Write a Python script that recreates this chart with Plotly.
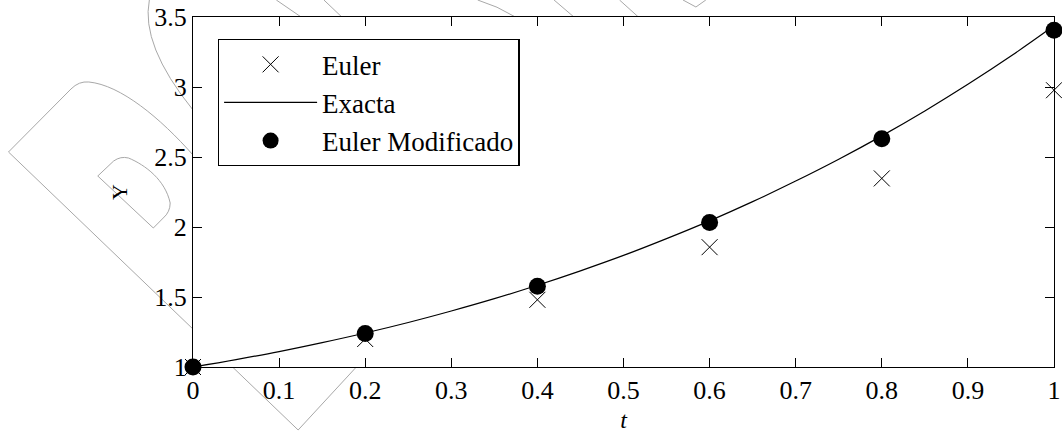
import plotly.graph_objects as go

# ---- data ----
t_steps = [0, 0.2, 0.4, 0.6, 0.8, 1.0]
euler = [1.0, 1.2, 1.48, 1.856, 2.347, 2.977]
euler_mod = [1.0, 1.24, 1.577, 2.032, 2.631, 3.405]

t_exact = [0, 0.05, 0.1, 0.15, 0.2, 0.25, 0.3, 0.35, 0.4, 0.45, 0.5,
           0.55, 0.6, 0.65, 0.7, 0.75, 0.8, 0.85, 0.9, 0.95, 1.0]
y_exact = [1.0, 1.053, 1.110, 1.174, 1.243, 1.318, 1.400, 1.488, 1.584, 1.687, 1.797,
           1.917, 2.044, 2.181, 2.328, 2.484, 2.651, 2.829, 3.019, 3.221, 3.437]

x_ticks = [0, 0.1, 0.2, 0.3, 0.4, 0.5, 0.6, 0.7, 0.8, 0.9, 1]
x_tick_labels = ["0", "0.1", "0.2", "0.3", "0.4", "0.5", "0.6", "0.7", "0.8", "0.9", "1"]
y_ticks = [1, 1.5, 2, 2.5, 3, 3.5]
y_tick_labels = ["1", "1.5", "2", "2.5", "3", "3.5"]

FONT = "Times New Roman, Liberation Serif, serif"
W, H = 1062, 433
ML, MR, MT, MB = 193, 1, 17, 66
PW, PH = W - ML - MR, H - MT - MB

fig = go.Figure()
fig.add_trace(go.Scatter(x=t_steps, y=euler, mode="markers", name="Euler",
                         marker=dict(symbol="x-thin-open", size=16, color="black",
                                     line=dict(width=1, color="black")),
                         cliponaxis=False))
fig.add_trace(go.Scatter(x=t_exact, y=y_exact, mode="lines", name="Exacta",
                         line=dict(color="black", width=1.2, shape="spline")))
fig.add_trace(go.Scatter(x=t_steps, y=euler_mod, mode="markers", name="Euler Modificado",
                         marker=dict(symbol="circle", size=17, color="black"),
                         cliponaxis=False))


# ---- watermark decoration (pixel paths converted to paper coords) ----
def P(x, y):
    return f"{(x - ML) / PW:.5f},{(H - MB - y) / PH:.5f}"


wm_paths = [
    f"M{P(193,155)} C{P(160,118)} {P(120,85)} {P(88,82)} Q{P(78,81)} {P(70,89)} L{P(7,152)} L{P(299,430)} L{P(380,343)}",
    f"M{P(97,176)} L{P(113,161)} Q{P(120,156)} {P(128,158)} C{P(145,165)} {P(165,180)} {P(170,203)} Q{P(170,212)} {P(163,218)} L{P(153,228)} Z",
    f"M{P(149,0)} Q{P(140,45)} {P(193,110)}",
    f"M{P(277,0)} L{P(302,17)}",
    f"M{P(325,0)} L{P(343,17)}",
    f"M{P(480,0)} Q{P(500,6)} {P(518,17)}",
    f"M{P(557,0)} L{P(577,17)}",
    f"M{P(623,0)} L{P(642,17)}",
    f"M{P(687,0)} L{P(700,7)} L{P(710,0)}",
]
shapes = [dict(type="path", path=p, xref="paper", yref="paper", layer="below",
               line=dict(color="#a8a8a8", width=1)) for p in wm_paths]
shapes.append(dict(type="rect", xref="x domain", yref="y domain", x0=0, x1=1, y0=0, y1=1,
                   fillcolor="white", line=dict(width=0), layer="below"))

axis_common = dict(showline=True, linecolor="black", linewidth=1.3, mirror="ticks",
                   ticks="inside", ticklen=9, tickcolor="black", tickwidth=1.2,
                   showgrid=False, zeroline=False, ticklabeloverflow="allow",
                   tickfont=dict(family=FONT, size=26, color="black"))

fig.update_layout(
    width=W, height=H,
    margin=dict(l=ML, r=MR, t=MT, b=MB),
    paper_bgcolor="white", plot_bgcolor="rgba(0,0,0,0)",
    font=dict(family=FONT, size=26, color="black"),
    shapes=shapes,
    xaxis=dict(range=[0, 1], tickvals=x_ticks, ticktext=x_tick_labels,
               title=dict(text="<i>t</i>", font=dict(family=FONT, size=24), standoff=6),
               **axis_common),
    yaxis=dict(range=[1, 3.5], tickvals=y_ticks, ticktext=y_tick_labels,
               title=dict(text="Y", font=dict(family=FONT, size=22), standoff=20),
               **axis_common),
    legend=dict(x=(218 - ML) / PW, y=(H - MB - 39) / PH, xanchor="left", yanchor="top",
                bgcolor="white", bordercolor="black", borderwidth=1.3,
                font=dict(family=FONT, size=27, color="black"),
                itemwidth=93, entrywidth=200, entrywidthmode="pixels"),
    showlegend=True,
)

fig.write_html("out.html", config={"displayModeBar": False},
               post_script="document.body.style.margin='0';document.body.style.overflow='hidden';")
